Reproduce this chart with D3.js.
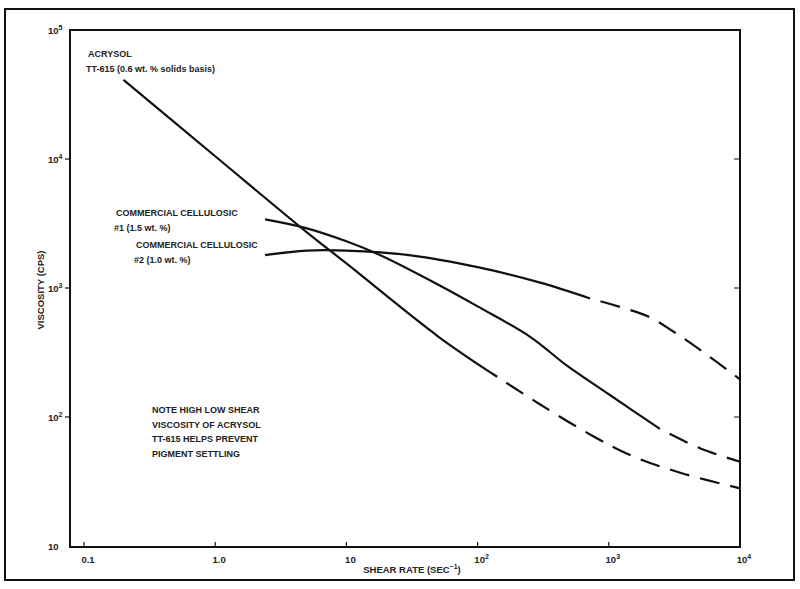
<!DOCTYPE html>
<html><head><meta charset="utf-8">
<script src="https://cdn.jsdelivr.net/npm/d3@7"></script>
<style>body{margin:0;background:#fff}text{font-family:"Liberation Sans",Arial,sans-serif;font-weight:bold;fill:#222}</style>
</head><body><svg id="c" width="800" height="589"></svg>
<script>
const acrysolX = [0.2, 1, 5, 10, 51, 141, 300, 760, 1500, 3500, 10000];
const acrysolY = [41000, 10500, 2700, 1550, 415, 205, 125, 71, 50, 37, 28];
const acrysolSolidEnd = 141;
const cell1X = [2.4, 5, 10, 18, 51, 100, 250, 480, 1000, 2450, 5000, 10000];
const cell1Y = [3400, 2900, 2300, 1800, 1050, 720, 420, 250, 150, 81, 57, 45];
const cell1SolidEnd = 2450;
const cell2X = [2.4, 5, 10, 30, 100, 300, 720, 2000, 3100, 5000, 10000];
const cell2Y = [1800, 1950, 1950, 1800, 1450, 1100, 830, 600, 460, 330, 196];
const cell2SolidEnd = 720;
const xTicks = [0.1, 1, 10, 100, 1000, 10000];
const xTickLabels = [["0.1",""],["1.0",""],["10",""],["10","2"],["10","3"],["10","4"]];
const yTicks = [10, 100, 1000, 10000, 100000];
const yTickLabels = [["10",""],["10","2"],["10","3"],["10","4"],["10","5"]];

const svg = d3.select("#c");
const L=70, R=740, T=30, B=547;
const x = d3.scaleLog().domain([0.1,10000]).range([84,740]);
const y = d3.scaleLog().domain([10,100000]).range([546,30]);

svg.append("rect").attr("x",5).attr("y",9).attr("width",789).attr("height",571).attr("fill","none").attr("stroke","#111").attr("stroke-width",2);
svg.append("rect").attr("x",L).attr("y",T).attr("width",R-L).attr("height",B-T).attr("fill","none").attr("stroke","#111").attr("stroke-width",2);

xTicks.forEach((t,i)=>{
  svg.append("line").attr("x1",x(t)).attr("x2",x(t)).attr("y1",B).attr("y2",B-5).attr("stroke","#111").attr("stroke-width",1.2);
  const tx=svg.append("text").attr("x",x(t)+4).attr("y",B+16).attr("text-anchor","middle").attr("font-size",9.5).text(xTickLabels[i][0]);
  if(xTickLabels[i][1]) tx.append("tspan").attr("dy",-4).attr("font-size",7).text(xTickLabels[i][1]);
});
yTicks.forEach((t,i)=>{
  if(i>0&&i<4){
    svg.append("line").attr("x1",L).attr("x2",L-5).attr("y1",y(t)).attr("y2",y(t)).attr("stroke","#111").attr("stroke-width",1.2);
    svg.append("line").attr("x1",R).attr("x2",R-6).attr("y1",y(t)).attr("y2",y(t)).attr("stroke","#111").attr("stroke-width",1);
  }
  const ty=svg.append("text").attr("x",L-22).attr("y",y(t)+4).attr("text-anchor","start").attr("font-size",9.5).text(yTickLabels[i][0]);
  if(yTickLabels[i][1]) ty.append("tspan").attr("dy",-4).attr("font-size",7).text(yTickLabels[i][1]);
});
svg.append("text").attr("transform","translate(44,290) rotate(-90)").attr("text-anchor","middle").attr("font-size",9.5).text("VISCOSITY (CPS)");
const xt=svg.append("text").attr("x",412).attr("y",573).attr("text-anchor","middle").attr("font-size",9.5).text("SHEAR RATE (SEC");
xt.append("tspan").attr("dy",-4).attr("font-size",7).text("−1");
xt.append("tspan").attr("dy",4).text(")");

const line=d3.line().x(d=>x(d[0])).y(d=>y(d[1])).curve(d3.curveCatmullRom.alpha(0.5));
function draw(xs,ys,end){
  const pts=xs.map((v,i)=>[v,ys[i]]);
  const solid=pts.filter(p=>p[0]<=end), dashed=pts.filter(p=>p[0]>=end);
  svg.append("path").attr("d",line(solid)).attr("fill","none").attr("stroke","#111").attr("stroke-width",2.2);
  svg.append("path").attr("d",line(dashed)).attr("fill","none").attr("stroke","#111").attr("stroke-width",2.2).attr("stroke-dasharray","20,11").attr("stroke-dashoffset",-11);
}
draw(acrysolX,acrysolY,acrysolSolidEnd);
draw(cell1X,cell1Y,cell1SolidEnd);
draw(cell2X,cell2Y,cell2SolidEnd);

const lab=(t,xx,yy)=>svg.append("text").attr("x",xx).attr("y",yy).attr("font-size",9).text(t);
lab("ACRYSOL",88,57); lab("TT-615 (0.6 wt. % solids basis)",86,72);
lab("COMMERCIAL CELLULOSIC",116,216); lab("#1 (1.5 wt. %)",114,231);
lab("COMMERCIAL CELLULOSIC",136,248); lab("#2 (1.0 wt. %)",134,263);
["NOTE HIGH LOW SHEAR","VISCOSITY OF ACRYSOL","TT-615 HELPS PREVENT","PIGMENT SETTLING"].forEach((t,i)=>lab(t,152,413+i*14.5));
</script></body></html>
